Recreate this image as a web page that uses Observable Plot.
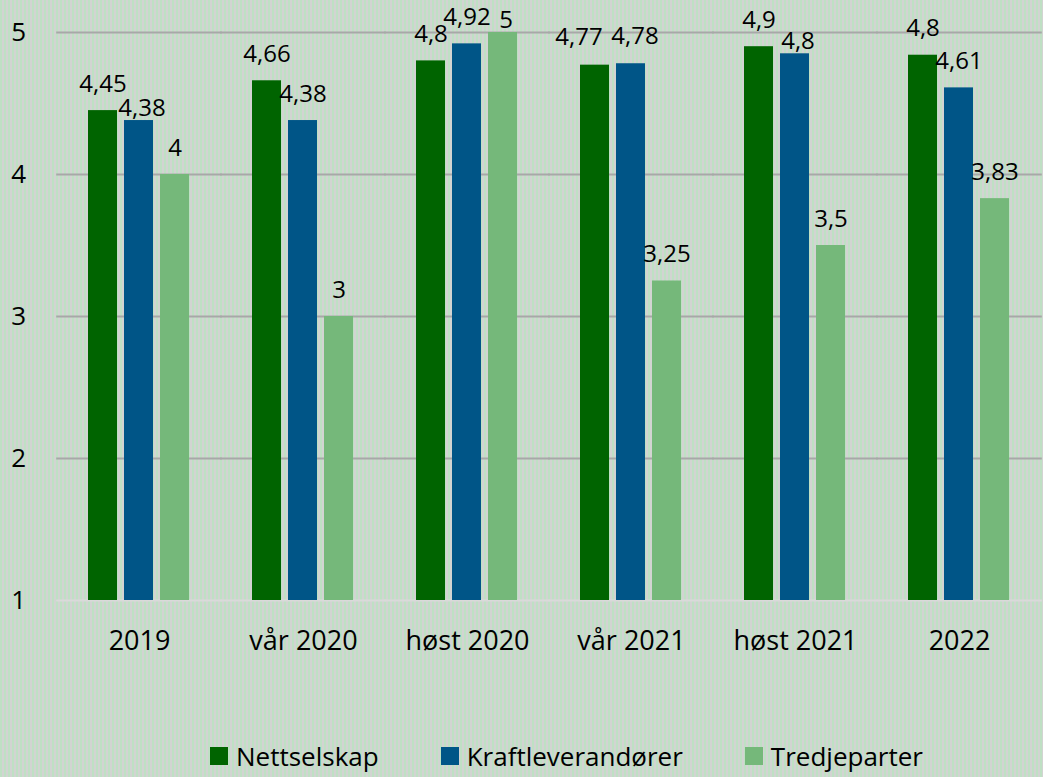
<!DOCTYPE html>
<html>
<head>
<meta charset="utf-8">
<script src="https://cdn.jsdelivr.net/npm/d3@7"></script>
<script src="https://cdn.jsdelivr.net/npm/@observablehq/plot@0.6"></script>
<style>
  html, body { margin: 0; padding: 0; }
  body {
    width: 1043px; height: 777px;
    font-family: "Open Sans", sans-serif;
    background: repeating-linear-gradient(90deg, #bfe0c4 0px, #bfe0c4 2px, #d2d4d2 2px, #d2d4d2 4px);
  }
  #chart { height: 720px; }
  #legend {
    display: flex; align-items: center; height: 32px; margin-top: 20px;
    padding-left: 210px; font-size: 26px; line-height: 1; color: #000;
  }
  #legend .item { display: flex; align-items: center; margin-right: 62px; }
  #legend .sw { width: 18px; height: 18px; margin-right: 8px; }
</style>
</head>
<body>
<div id="chart"></div>
<div id="legend"></div>
<script>
const categories = ["2019", "vår 2020", "høst 2020", "vår 2021", "høst 2021", "2022"];
const series = ["Nettselskap", "Kraftleverandører", "Tredjeparter"];
const colors = ["#006400", "#005587", "#75b87a"];

const nettselskap = [4.45, 4.66, 4.80, 4.77, 4.90, 4.84];
const kraftleverandorer = [4.38, 4.38, 4.92, 4.78, 4.85, 4.61];
const tredjeparter = [4.00, 3.00, 5.00, 3.25, 3.50, 3.83];

const nettselskapLabels = ["4,45", "4,66", "4,8", "4,77", "4,9", "4,8"];
const kraftLabels = ["4,38", "4,38", "4,92", "4,78", "4,8", "4,61"];
const tredjeLabels = ["4", "3", "5", "3,25", "3,5", "3,83"];

const yTicks = [1, 2, 3, 4, 5];

const values = [nettselskap, kraftleverandorer, tredjeparter];
const labels = [nettselskapLabels, kraftLabels, tredjeLabels];

const rows = [];
categories.forEach((cat, ci) => {
  const group = series.map((s, si) => ({cat, series: s, value: values[si][ci], label: labels[si][ci], mode: "n"}));
  for (let i = 1; i < group.length; i++) {
    const diff = Math.abs(group[i].value - group[i - 1].value);
    if (diff < 0.02) { group[i - 1].mode = "left"; group[i].mode = "right"; }
    else if (diff < 0.1) { group[i].mode = "low"; }
  }
  rows.push(...group);
});

const W = 1043, ML = 55, MR = 0;
const padInner = 0.38, padOuter = 0.19;
const step = (W - ML - MR) / (categories.length - padInner + 2 * padOuter);
const halfGap = step * padOuter; // grid extends across the gaps between groups

const textOpts = {fx: "cat", x: "series", y: "value", text: "label", lineAnchor: "bottom", fontSize: 24, fill: "#000"};

const plot = Plot.plot({
  width: W,
  height: 720,
  marginLeft: ML,
  marginRight: MR,
  marginTop: 32,
  marginBottom: 120,
  style: {background: "transparent", fontFamily: "Open Sans, sans-serif", color: "#000"},
  fx: {domain: categories, paddingInner: padInner, paddingOuter: padOuter, label: null},
  x: {domain: series, paddingInner: 0.19, paddingOuter: 0, axis: null},
  y: {domain: [1, 5], axis: null},
  color: {domain: series, range: colors},
  marks: [
    Plot.ruleY(yTicks.slice(1), {y: d => d, stroke: "#a8a8a8", strokeWidth: 2, insetLeft: -halfGap - 0.5, insetRight: -halfGap - 0.5}),
    Plot.ruleY([1], {y: d => d, stroke: "#dadada", strokeWidth: 2, insetLeft: -halfGap - 0.5, insetRight: -halfGap - 0.5}),
    Plot.axisY(yTicks, {tickSize: 0, tickPadding: halfGap + 31, fontSize: 26, tickFormat: d => String(d), label: null}),
    Plot.axisFx({anchor: "bottom", tickSize: 0, tickPadding: 30, fontSize: 27, label: null}),
    Plot.barY(rows, {fx: "cat", x: "series", y1: 1, y2: "value", fill: "series"}),
    Plot.text(rows.filter(r => r.mode === "n"), {...textOpts, dy: -19}),
    Plot.text(rows.filter(r => r.mode === "low"), {...textOpts, dy: -5, dx: 3}),
    Plot.text(rows.filter(r => r.mode === "left"), {...textOpts, dy: -20, dx: -16}),
    Plot.text(rows.filter(r => r.mode === "right"), {...textOpts, dy: -20, dx: 4})
  ]
});
document.getElementById("chart").appendChild(plot);

const legend = document.getElementById("legend");
series.forEach((s, i) => {
  const item = document.createElement("div");
  item.className = "item";
  const sw = document.createElement("div");
  sw.className = "sw";
  sw.style.background = plot.scale("color").apply(s);
  const t = document.createElement("span");
  t.textContent = s;
  item.appendChild(sw);
  item.appendChild(t);
  legend.appendChild(item);
});
</script>
</body>
</html>
